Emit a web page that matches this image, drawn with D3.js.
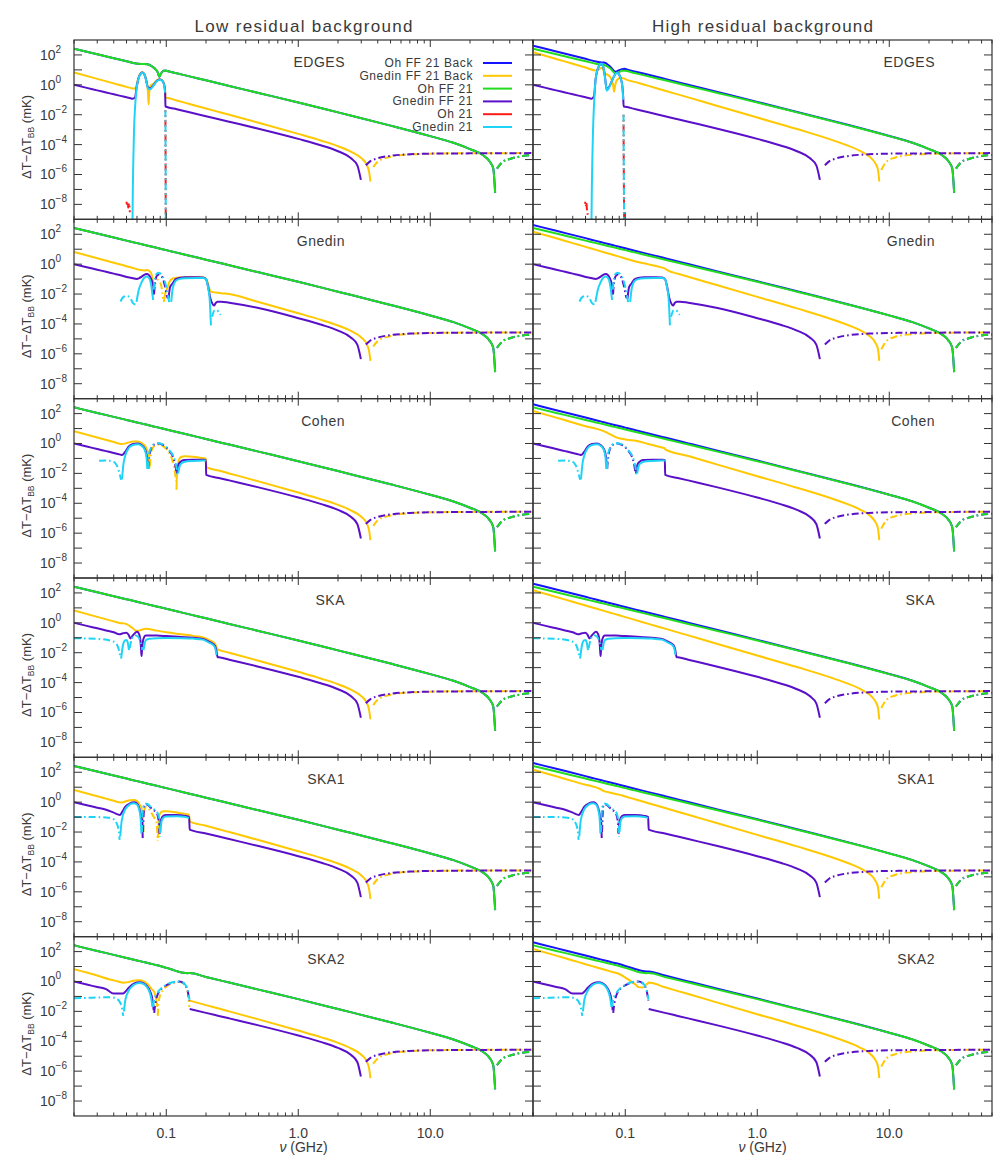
<!DOCTYPE html>
<meta charset="utf-8">
<style>
  body { margin: 0; background: #fff; }
  svg text { font-family: "Liberation Sans", Arial, sans-serif; fill: #3a3a3a; }
</style>
<body>
<div id="vis"></div>
<script src="https://cdn.jsdelivr.net/npm/d3@7/dist/d3.min.js"></script>
<script>

// ---- labels ----
const columnTitles = ['Low residual background', 'High residual background'];
const panelNames = ['EDGES', 'Gnedin', 'Cohen', 'SKA', 'SKA1', 'SKA2'];
const seriesNames = ['Oh FF 21 Back', 'Gnedin FF 21 Back', 'Oh FF 21', 'Gnedin FF 21', 'Oh 21', 'Gnedin 21'];
const seriesKeys = ['blue', 'gold', 'green', 'purple', 'red', 'cyan'];
const colors = {blue: '#1414ff', gold: '#ffc800', green: '#22dd1e', purple: '#5a10c8', red: '#ff1a1a', cyan: '#1ed4f6'};
const xTickLabels = [[0.1, '0.1'], [1, '1.0'], [10, '10.0']];

// values are [nu (GHz), dT (mK)]; a negative value is drawn dash-dot as |dT|

// smooth low-frequency parts (0.02 - 0.3 GHz)
const purpleBase = [[0.02,1.0],[0.025,0.625],[0.03,0.427],[0.035,0.309],[0.04,0.233],[0.045,0.182],[0.05,0.146],[0.055,0.119],[0.06,0.0995],[0.065,0.0841],[0.07,0.072],[0.08,0.0544],[0.09,0.0425],[0.1,0.034],[0.12,0.0232],[0.15,0.0145],[0.2,0.00794],[0.25,0.00497],[0.3,0.00339]];
const goldLowBase = [[0.02,6.6],[0.03,2.5],[0.04,1.25],[0.045,0.94],[0.05,0.73],[0.055,0.58],[0.06,0.47],[0.065,0.39],[0.07,0.33],[0.08,0.237],[0.09,0.179],[0.1,0.139],[0.12,0.0897],[0.15,0.0525],[0.2,0.0263],[0.25,0.0154],[0.3,0.00995]];
const goldHighBase = [[0.02,151],[0.03,53.5],[0.04,25.5],[0.05,14.4],[0.06,9.0],[0.07,6.05],[0.08,4.3],[0.09,3.18],[0.1,2.42],[0.12,1.51],[0.15,0.853],[0.2,0.407],[0.3,0.144]];
const greenBase = [[0.02,263],[0.03,111],[0.04,60.5],[0.05,37.7],[0.06,25.6],[0.07,18.5],[0.08,13.9],[0.09,10.9],[0.1,8.67],[0.12,5.9],[0.15,3.67],[0.2,2.0],[0.3,0.845]];
const blueBase = [[0.02,417],[0.03,170],[0.05,55],[0.06,36],[0.07,25.5],[0.08,18.9],[0.09,14.6],[0.1,11.5],[0.12,7.6],[0.15,4.7],[0.2,2.5],[0.3,1.02]];

// high-frequency tails (>= 0.5 GHz)
const purpleTail = [[0.5,1.16e-3],[1,2.43e-4],[1.5,8.8e-5],[2,3.6e-5],[2.5,1.25e-5],[2.8,4.1e-6],[2.98,4.4e-7],[3.25,-4.2e-6],[3.5,-7.5e-6],[4,-1.23e-5],[5,-1.78e-5],[7,-2.25e-5],[10,-2.49e-5],[20,-2.6e-5],[60,-2.7e-5]];
const goldLowTail = [[0.5,2.92e-3],[1,5.25e-4],[1.5,1.82e-4],[2,7.8e-5],[2.5,3.4e-5],[3,1.25e-5],[3.3,4.5e-6],[3.45,1.3e-6],[3.52,3.4e-7],[3.7,-3.1e-6],[4,-7.1e-6],[5,-1.54e-5],[7,-2.18e-5],[10,-2.48e-5],[20,-2.65e-5],[60,-2.7e-5]];
const goldHighTail = [[0.5,0.0386],[1,6.5e-3],[2,1.1e-3],[4,1.58e-4],[6,3.8e-5],[7,1.7e-5],[7.8,6e-6],[8.2,2.2e-6],[8.4,3.4e-7],[8.7,-2e-6],[9.5,-7e-6],[11,-1.33e-5],[15,-2.1e-5],[25,-2.55e-5],[60,-2.7e-5]];
const greenTail = [[0.5,0.286],[1,0.0658],[2,0.0143],[5,1.87e-3],[10,3.69e-4],[15,1.32e-4],[20,5.0e-5],[25,2.0e-5],[28,8e-6],[30,2.5e-6],[31,6e-8],[32,-2.5e-6],[35,-6.5e-6],[40,-1.1e-5],[50,-1.7e-5],[60,-2.0e-5]];
const blueTail = [[0.5,0.33],[1,0.072],[2,0.0152],[5,1.95e-3],[10,3.75e-4],[15,1.33e-4],[20,5.0e-5],[25,2.0e-5],[28,8e-6],[30,2.5e-6],[31,6e-8],[32,-2.5e-6],[35,-6.5e-6],[40,-1.1e-5],[50,-1.7e-5],[60,-2.0e-5]];

// 21-cm signals (Gnedin 21 / Oh 21)
const sigEdgesL = [[0.0555,1e-9],[0.0558,1e-7],[0.0563,1e-5],[0.057,1e-3],[0.058,0.03],[0.0595,0.5],[0.0615,2.5],[0.064,5.5],[0.066,6.5],[0.068,5.2],[0.07,2.5],[0.0715,1.0],[0.073,0.55],[0.0755,0.5],[0.08,0.9],[0.085,1.8],[0.089,2.2],[0.093,1.9],[0.096,1.1],[0.098,0.3],[0.0985,-0.02],[0.0987,-1e-4],[0.0989,-1e-6],[0.099,-1e-8],[0.0991,-1.1e-9]];
const sigEdgesR = [[0.0555,1e-9],[0.0558,1e-7],[0.0563,1e-5],[0.057,1e-3],[0.058,0.05],[0.0595,2],[0.0615,10],[0.064,22],[0.066,27],[0.068,17],[0.07,4],[0.0715,0.8],[0.0725,0.4],[0.075,0.6],[0.078,1.3],[0.082,3.5],[0.086,6.5],[0.089,5.5],[0.092,3],[0.095,0.8],[0.0965,0.1],[0.097,-0.01],[0.0972,-1e-4],[0.0975,-1e-6],[0.0978,-1e-8],[0.098,-1.1e-9]];
const redEdgesL = [[0.05,-1.5e-8],[0.0505,-8e-9],[0.051,-1.3e-8],[0.0515,-6e-9],[0.0522,-1.2e-8],[0.053,-3e-9],null,[0.0985,-0.02],[0.0987,-1e-4],[0.0989,-1e-6],[0.099,-1e-8],[0.0991,-1.1e-9]];
const redEdgesR = [[0.0497,-1.5e-8],[0.0502,-7e-9],[0.0507,-1.3e-8],[0.0512,-5e-9],[0.052,-2e-9],null,[0.097,-0.01],[0.0972,-1e-4],[0.0975,-1e-6],[0.0978,-1e-8],[0.098,-1.1e-9]];
const sigGnedin = [[0.045,-3.2e-3],[0.047,-6e-3],[0.05,-7.5e-3],[0.053,-6e-3],[0.056,-2.5e-3],[0.0585,-2e-3],[0.0595,3e-3],[0.062,0.02],[0.065,0.06],[0.068,0.12],[0.071,0.15],[0.074,0.12],[0.0765,0.05],[0.0785,0.01],[0.0795,0.004],[0.0805,-0.02],[0.082,-0.1],[0.085,-0.24],[0.088,-0.27],[0.092,-0.2],[0.096,-0.1],[0.1,-0.03],[0.103,-0.008],[0.106,-0.002],[0.109,0.003],[0.112,0.025],[0.117,0.07],[0.125,0.1],[0.14,0.115],[0.17,0.12],[0.19,0.12],[0.2,0.1],[0.207,0.03],[0.213,0.005],[0.218,8e-5],[0.222,-3e-4],[0.232,-8e-4],[0.242,-8.5e-4],[0.25,-6e-4],[0.258,-4e-4]];
const sigCohen = [[0.031,-0.07],[0.035,-0.072],[0.039,-0.065],[0.042,-0.037],[0.0445,-0.008],[0.0455,-0.0037],[0.0462,0.004],[0.0475,0.05],[0.0486,0.13],[0.052,0.5],[0.056,0.8],[0.061,0.9],[0.065,0.7],[0.0688,0.37],[0.071,0.1],[0.0718,0.02],[0.0728,-0.02],[0.074,-0.2],[0.0771,-0.56],[0.081,-0.9],[0.0866,-1.05],[0.093,-0.9],[0.1005,-0.56],[0.107,-0.3],[0.112,-0.17],[0.117,-0.06],[0.12,-0.02],[0.1215,-0.008],[0.123,0.01],[0.127,0.035],[0.131,0.048],[0.138,0.06],[0.16,0.068],[0.19,0.072],[0.1995,0.072]];
const sigSKA = [[0.02,-0.093],[0.03,-0.085],[0.0397,-0.056],[0.043,-0.025],[0.0448,-0.006],[0.0455,0.004],[0.047,0.033],[0.0485,0.065],[0.05,0.072],[0.051,0.05],[0.0522,0.015],[0.0528,-0.02],[0.055,-0.09],[0.058,-0.15],[0.061,-0.12],[0.064,-0.05],[0.066,-0.015],[0.0672,0.015],[0.07,0.07],[0.075,0.085],[0.085,0.093],[0.1,0.095],[0.13,0.093],[0.16,0.088],[0.19,0.075],[0.213,0.045],[0.225,0.035],[0.235,0.02],[0.24,0.007]];
const sigSKA1 = [[0.02,-0.1],[0.025,-0.1],[0.03,-0.1],[0.035,-0.095],[0.039,-0.08],[0.042,-0.04],[0.0438,-0.01],[0.0443,-0.003],[0.0448,0.005],[0.046,0.06],[0.049,0.35],[0.053,0.7],[0.057,0.85],[0.06,0.7],[0.0625,0.3],[0.0642,0.05],[0.0648,0.008],[0.0655,-0.01],[0.0665,-0.3],[0.069,-0.8],[0.072,-0.75],[0.076,-0.5],[0.08,-0.35],[0.084,-0.25],[0.086,-0.18],[0.088,-0.08],[0.0893,-0.02],[0.0898,-0.005],[0.0905,0.01],[0.092,0.05],[0.095,0.09],[0.1,0.11],[0.12,0.115],[0.14,0.1],[0.149,0.085]];
const sigSKA2 = [[0.02,-0.076],[0.025,-0.08],[0.03,-0.085],[0.0374,-0.089],[0.042,-0.07],[0.045,-0.035],[0.0465,-0.012],[0.0472,-0.005],[0.0478,0.01],[0.049,0.06],[0.052,0.25],[0.056,0.55],[0.06,0.75],[0.063,0.8],[0.067,0.7],[0.071,0.45],[0.075,0.18],[0.0775,0.05],[0.0785,0.02],[0.0795,-0.02],[0.081,-0.06],[0.085,-0.15],[0.089,-0.27],[0.095,-0.45],[0.1,-0.59],[0.11,-0.85],[0.12,-0.98],[0.126,-1.0],[0.135,-0.8],[0.145,-0.28],[0.15,-0.06]];

// Gnedin FF 21 around the 21-cm band
const purEdgesL = [[0.0555,0.117],[0.058,0.145],[0.0595,0.6],[0.0615,2.6],[0.064,5.6],[0.066,6.6],[0.068,5.3],[0.07,2.6],[0.0715,1.07],[0.073,0.62],[0.0755,0.56],[0.08,0.95],[0.085,1.85],[0.089,2.25],[0.093,1.95],[0.096,1.15],[0.098,0.35],[0.0986,0.036]];
const purEdgesR = [[0.0555,0.117],[0.058,0.17],[0.0595,2.1],[0.0615,10],[0.064,22],[0.066,27],[0.068,17],[0.07,4],[0.0715,0.87],[0.0725,0.47],[0.075,0.66],[0.078,1.36],[0.082,3.55],[0.086,6.55],[0.089,5.54],[0.092,3.04],[0.095,0.84],[0.0965,0.14],[0.0972,0.035]];
const purGnedin = [[0.05,0.139],[0.056,0.115],[0.0595,0.103],[0.062,0.112],[0.065,0.144],[0.068,0.195],[0.071,0.22],[0.074,0.185],[0.0765,0.11],[0.0785,0.06],[0.0798,0.03],[0.0803,0.009],[0.0808,-0.01],[0.082,-0.05],[0.085,-0.17],[0.088,-0.205],[0.092,-0.16],[0.096,-0.063],[0.099,-0.02],[0.101,-0.008],[0.1025,-0.0052],[0.104,0.005],[0.107,0.03],[0.112,0.053],[0.117,0.094],[0.125,0.12],[0.14,0.132],[0.17,0.131],[0.19,0.128],[0.2,0.1],[0.207,0.035],[0.215,0.006],[0.224,0.0022],[0.23,0.0017],[0.237,0.0025],[0.245,0.003],[0.26,0.0031],[0.3,0.0026]];
const purCohen = [[0.045,0.18],[0.0462,0.17],[0.0486,0.26],[0.052,0.63],[0.056,0.92],[0.061,1.0],[0.065,0.79],[0.0688,0.44],[0.071,0.17],[0.0718,0.085],[0.0724,0.03],[0.0729,-0.02],[0.0735,-0.05],[0.0771,-0.5],[0.081,-0.85],[0.0866,-1.0],[0.093,-0.86],[0.1005,-0.53],[0.107,-0.27],[0.112,-0.14],[0.117,-0.035],[0.1195,-0.011],[0.1205,0.01],[0.123,0.032],[0.127,0.055],[0.131,0.068],[0.138,0.078],[0.16,0.083],[0.19,0.082],[0.1995,0.08],[0.2005,0.0079]];
const purSKA = [[0.04,0.233],[0.044,0.17],[0.047,0.2],[0.05,0.22],[0.052,0.15],[0.0535,0.09],[0.056,0.15],[0.06,0.25],[0.062,0.19],[0.0638,0.06],[0.0645,0.015],[0.065,0.006],[0.0655,0.015],[0.067,0.08],[0.07,0.14],[0.085,0.14],[0.1,0.13],[0.13,0.113],[0.16,0.1],[0.19,0.084],[0.213,0.052],[0.225,0.04],[0.235,0.026],[0.24,0.0125],[0.245,0.005]];
const purSKA1 = [[0.04,0.2],[0.0446,0.14],[0.046,0.2],[0.049,0.5],[0.053,0.82],[0.057,0.97],[0.06,0.8],[0.0625,0.39],[0.0642,0.135],[0.0648,0.09],[0.0655,0.07],[0.066,0.02],[0.0663,0.004],[0.0667,-0.01],[0.068,-0.5],[0.069,-0.73],[0.072,-0.68],[0.076,-0.44],[0.08,-0.3],[0.084,-0.2],[0.086,-0.13],[0.088,-0.035],[0.0888,-0.008],[0.0893,0.008],[0.0905,0.05],[0.092,0.08],[0.095,0.12],[0.1,0.14],[0.12,0.14],[0.14,0.12],[0.149,0.1],[0.1505,0.0144]];
const purSKA2 = [[0.04,0.155],[0.0432,0.16],[0.0472,0.16],[0.049,0.21],[0.052,0.38],[0.056,0.67],[0.06,0.85],[0.063,0.89],[0.067,0.78],[0.071,0.52],[0.075,0.24],[0.0775,0.11],[0.0785,0.06],[0.0795,0.03],[0.0802,0.012],[0.081,-0.008],[0.082,-0.02],[0.085,-0.1],[0.089,-0.23],[0.095,-0.41],[0.1,-0.56],[0.11,-0.82],[0.12,-0.96],[0.126,-0.98],[0.135,-0.78],[0.145,-0.26],[0.1495,-0.05],[0.1505,0.0145]];

// Gnedin FF 21 Back around the 21-cm band
const goldEdgesL = [[0.0555,0.57],[0.058,0.56],[0.0595,0.95],[0.0615,3],[0.064,6],[0.066,7],[0.068,5.6],[0.07,2.9],[0.0715,1.3],[0.0727,0.3],[0.0735,0.05],[0.0743,0.3],[0.0755,0.8],[0.08,1.2],[0.085,2.0],[0.089,2.4],[0.093,2.1],[0.096,1.3],[0.098,0.45],[0.0986,0.14]];
const goldGnedinL = [[0.06,0.46],[0.064,0.4],[0.068,0.38],[0.072,0.4],[0.075,0.33],[0.078,0.17],[0.0795,0.06],[0.0805,0.02],[0.0812,-0.02],[0.083,-0.06],[0.086,-0.09],[0.089,-0.07],[0.092,-0.03],[0.0945,-0.005],[0.096,0.003],[0.098,0.01],[0.1005,0.019],[0.106,0.07],[0.112,0.11],[0.125,0.13],[0.15,0.14],[0.19,0.13],[0.2,0.11],[0.207,0.05],[0.215,0.016],[0.22,0.014],[0.26,0.0115]];
const goldCohenL = [[0.045,0.94],[0.0486,0.98],[0.052,1.19],[0.056,1.36],[0.061,1.35],[0.065,1.09],[0.0688,0.72],[0.071,0.42],[0.0718,0.33],[0.0728,0.28],[0.074,0.09],[0.0745,0.02],[0.0752,-0.03],[0.0771,-0.3],[0.081,-0.67],[0.0866,-0.85],[0.093,-0.73],[0.1005,-0.42],[0.107,-0.18],[0.112,-0.06],[0.116,-0.015],[0.1185,-0.003],[0.1195,8e-4],[0.121,0.02],[0.127,0.11],[0.131,0.13],[0.138,0.14],[0.16,0.13],[0.19,0.105],[0.1995,0.1],[0.2005,0.026]];
const goldSKAL = [[0.045,0.94],[0.047,0.92],[0.05,0.82],[0.053,0.6],[0.056,0.42],[0.059,0.3],[0.062,0.3],[0.066,0.36],[0.07,0.4],[0.085,0.3],[0.1,0.23],[0.13,0.17],[0.16,0.134],[0.19,0.105],[0.213,0.068],[0.235,0.038],[0.245,0.0165]];
const goldSKA1L = [[0.045,0.94],[0.046,0.96],[0.049,1.1],[0.053,1.34],[0.057,1.4],[0.06,1.17],[0.0625,0.73],[0.0648,0.4],[0.0665,0.07],[0.0672,0.01],[0.068,-0.2],[0.069,-0.46],[0.072,-0.44],[0.076,-0.24],[0.08,-0.11],[0.084,-0.05],[0.0855,-0.01],[0.0862,-0.0025],[0.0868,0.004],[0.088,0.1],[0.0893,0.16],[0.092,0.22],[0.095,0.25],[0.1,0.25],[0.12,0.2],[0.14,0.16],[0.149,0.14],[0.1505,0.052]];
const goldSKA2L = [[0.0374,1.36],[0.0432,1.0],[0.0472,0.83],[0.049,0.84],[0.052,0.93],[0.056,1.11],[0.06,1.22],[0.063,1.2],[0.067,1.06],[0.071,0.77],[0.075,0.46],[0.0775,0.31],[0.081,0.2],[0.084,0.06],[0.0855,0.02],[0.0862,-0.005],[0.087,-0.02],[0.089,-0.09],[0.095,-0.28],[0.1,-0.45],[0.11,-0.74],[0.12,-0.89],[0.126,-0.93],[0.135,-0.73],[0.145,-0.22],[0.1495,-0.02],[0.1505,0.0525]];
const goldEdgesR = [[0.06,9],[0.063,11],[0.066,14],[0.0706,5.9],[0.0767,3.5],[0.0805,1.2],[0.0823,0.35],[0.084,1.0],[0.0865,2.1],[0.092,2.9],[0.099,2.6]];
const goldGnedinR = [[0.15,0.97],[0.19,0.59],[0.2,0.51],[0.21,0.38],[0.25,0.23]];
const goldCohenR = [[0.06,9.9],[0.07,6.2],[0.0771,4.1],[0.0866,2.45],[0.1005,1.84],[0.112,1.65],[0.12,1.51],[0.15,0.92],[0.19,0.54],[0.1995,0.48],[0.2005,0.4]];
const goldSKA1R = [[0.055,12.1],[0.06,9.7],[0.065,7.3],[0.069,5.5],[0.075,4.6],[0.08,3.95],[0.09,3.2]];
const goldSKA2R = [[0.1,1.83],[0.11,1.05],[0.12,0.6],[0.126,0.42],[0.135,0.4],[0.145,0.65],[0.1495,0.79],[0.1505,0.845]];

// Oh FF 21 (Back) around the 21-cm band
const grnEdgesL = [[0.059,27],[0.065,25],[0.072,24],[0.078,17],[0.083,11],[0.086,7],[0.0885,3.5],[0.091,5.5],[0.095,8.5],[0.098,9.2]];
const grnEdgesR = [[0.06,25.6],[0.064,23],[0.069,21.5],[0.0767,13],[0.0845,5.9],[0.091,7.5],[0.094,8.9],[0.099,8.8]];
const blueEdgesR = [[0.06,36],[0.064,32],[0.069,31],[0.0767,17],[0.0845,7.6],[0.091,10],[0.099,12]];
const grnSKA2 = [[0.1,8.1],[0.11,6.4],[0.12,4.9],[0.126,4.3],[0.135,3.8],[0.145,3.6],[0.15,3.67]];
const blueSKA2R = [[0.1,10.9],[0.12,6.6],[0.126,5.9],[0.135,5.1],[0.145,4.7],[0.1495,4.66],[0.1505,4.64]];

// ---- assemble ----
const merged = (base, feat, tail) => {
  let pts = base;
  if (feat && feat.length) {
    const a = feat[0][0], b = feat[feat.length - 1][0];
    pts = base.filter(p => p[0] < a).concat(feat, base.filter(p => p[0] > b));
  }
  return pts.concat(tail);
};

const columns = [
  { // low residual background
    blue:   [grnEdgesL, [], [], [], [], grnSKA2].map(f => merged(greenBase, f, greenTail)),
    gold:   [goldEdgesL, goldGnedinL, goldCohenL, goldSKAL, goldSKA1L, goldSKA2L].map(f => merged(goldLowBase, f, goldLowTail)),
    green:  [grnEdgesL, [], [], [], [], grnSKA2].map(f => merged(greenBase, f, greenTail)),
    purple: [purEdgesL, purGnedin, purCohen, purSKA, purSKA1, purSKA2].map(f => merged(purpleBase, f, purpleTail)),
    red:    [redEdgesL, [], [], [], [], []],
    cyan:   [sigEdgesL, sigGnedin, sigCohen, sigSKA, sigSKA1, sigSKA2]
  },
  { // high residual background
    blue:   [blueEdgesR, [], [], [], [], blueSKA2R].map(f => merged(blueBase, f, blueTail)),
    gold:   [goldEdgesR, goldGnedinR, goldCohenR, [], goldSKA1R, goldSKA2R].map(f => merged(goldHighBase, f, goldHighTail)),
    green:  [grnEdgesR, [], [], [], [], grnSKA2].map(f => merged(greenBase, f, greenTail)),
    purple: [purEdgesR, purGnedin, purCohen, purSKA, purSKA1, purSKA2].map(f => merged(purpleBase, f, purpleTail)),
    red:    [redEdgesR, [], [], [], [], []],
    cyan:   [sigEdgesR, sigGnedin, sigCohen, sigSKA, sigSKA1, sigSKA2]
  }
];

// ---- layout ----
const width = 1008, height = 1168;
const colX = [74, 533], panelW = 459;
const topY = 40, panelH = 179.33;
const dashNeg = '7,3,1.6,3';

const svg = d3.select('#vis').append('svg')
    .attr('width', width)
    .attr('height', height);

const splitSegments = pts => {
  const segs = [];
  let cur = null;
  pts.forEach(p => {
    if (!p) { cur = null; return; }
    const neg = p[1] < 0;
    if (!cur || cur.neg !== neg) { cur = {neg: neg, pts: []}; segs.push(cur); }
    cur.pts.push(p);
  });
  return segs.filter(s => s.pts.length > 1);
};

const minorX = [];
[0.01, 0.1, 1, 10].forEach(d => d3.range(2, 10).forEach(k => {
  const v = d * k;
  if (v >= 0.02 && v <= 60) minorX.push(v);
}));

columnTitles.forEach((t, c) => {
  svg.append('text')
    .attr('x', colX[c] + panelW / 2)
    .attr('y', 32)
    .attr('text-anchor', 'middle')
    .attr('textLength', c == 0 ? 218 : 221)
    .attr('lengthAdjust', 'spacing')
    .style('font-size', '17px')
    .text(t);
});

columns.forEach((col, c) => {
  panelNames.forEach((name, r) => {
    const x0 = colX[c], y0 = topY + r * panelH;
    const x = d3.scaleLog().domain([0.02, 60]).range([x0, x0 + panelW]);
    const y = d3.scaleLog().domain([1e-9, 1e3]).range([y0 + panelH, y0]);
    const g = svg.append('g').attr('class', 'panel');

    const clipId = 'clip-' + c + '-' + r;
    svg.append('clipPath').attr('id', clipId)
      .append('rect').attr('x', x0).attr('y', y0).attr('width', panelW).attr('height', panelH);

    const line = d3.line()
      .x(d => x(d[0]))
      .y(d => y(Math.abs(d[1])))
      .curve(d3.curveMonotoneX);

    const lines = g.append('g').attr('clip-path', 'url(#' + clipId + ')');
    seriesKeys.forEach(key => {
      splitSegments(col[key][r]).forEach(seg => {
        lines.append('path')
          .attr('d', line(seg.pts))
          .style('fill', 'none')
          .style('stroke', colors[key])
          .style('stroke-width', 2)
          .style('stroke-linejoin', 'round')
          .style('stroke-dasharray', seg.neg ? dashNeg : null)
          .style('stroke-dashoffset', key == 'red' ? 5 : 0);
      });
    });

    // frame
    g.append('rect')
      .attr('x', x0).attr('y', y0).attr('width', panelW).attr('height', panelH)
      .style('fill', 'none').style('stroke', '#333').style('stroke-width', 1.2);

    // x ticks, top and bottom, pointing inward
    const ticks = g.append('g').style('stroke', '#333').style('stroke-width', 1);
    [0.1, 1, 10].forEach(v => {
      ticks.append('path').attr('d', 'M' + x(v) + ',' + (y0 + panelH) + 'v-7');
      ticks.append('path').attr('d', 'M' + x(v) + ',' + y0 + 'v7');
    });
    minorX.forEach(v => {
      ticks.append('path').attr('d', 'M' + x(v) + ',' + (y0 + panelH) + 'v-3.5');
      ticks.append('path').attr('d', 'M' + x(v) + ',' + y0 + 'v3.5');
    });
    // y ticks every decade, both sides
    d3.range(-8, 3).forEach(k => {
      const yy = y(Math.pow(10, k));
      ticks.append('path').attr('d', 'M' + x0 + ',' + yy + 'h8');
      ticks.append('path').attr('d', 'M' + (x0 + panelW) + ',' + yy + 'h-8');
      if (c == 0 && k % 2 == 0) {
        const t = g.append('text').attr('x', 40).attr('y', yy + 5).style('font-size', '14px');
        t.append('tspan').text('10');
        t.append('tspan').attr('dy', -7).style('font-size', '10px').text(k < 0 ? '\u2212' + (-k) : k);
      }
    });

    if (c == 0) {
      const lab = g.append('text')
        .attr('transform', 'translate(31,' + (y0 + 97) + ') rotate(-90)')
        .attr('text-anchor', 'middle')
        .style('font-size', '13px');
      lab.append('tspan').text('\u0394T\u2212\u0394T');
      lab.append('tspan').attr('dy', 3).style('font-size', '8.5px').text('BB');
      lab.append('tspan').attr('dy', -3).text(' (mK)');
    }

    g.append('text')
      .attr('x', c == 0 ? 345 : 935)
      .attr('y', y0 + 27)
      .attr('text-anchor', 'end')
      .style('font-size', '14px')
      .style('letter-spacing', '0.5px')
      .text(name);

    if (r == 5) {
      xTickLabels.forEach(([v, s]) => {
        g.append('text')
          .attr('x', x(v)).attr('y', y0 + panelH + 22)
          .attr('text-anchor', 'middle')
          .style('font-size', '14px')
          .text(s);
      });
      const xl = g.append('text')
        .attr('x', x0 + panelW / 2).attr('y', y0 + panelH + 36)
        .attr('text-anchor', 'middle')
        .style('font-size', '14px');
      xl.append('tspan').style('font-style', 'italic').text('\u03bd');
      xl.append('tspan').text(' (GHz)');
    }

    if (c == 0 && r == 0) {
      const leg = g.append('g');
      seriesNames.forEach((s, i) => {
        const ly = 63 + i * 12.8;
        leg.append('text')
          .attr('x', 473).attr('y', ly + 4)
          .attr('text-anchor', 'end')
          .style('font-size', '12px')
          .style('letter-spacing', '0.6px')
          .text(s);
        leg.append('path')
          .attr('d', 'M483,' + ly + 'H512')
          .style('stroke', colors[seriesKeys[i]])
          .style('stroke-width', 2);
      });
    }
  });
});

</script>
</body>
